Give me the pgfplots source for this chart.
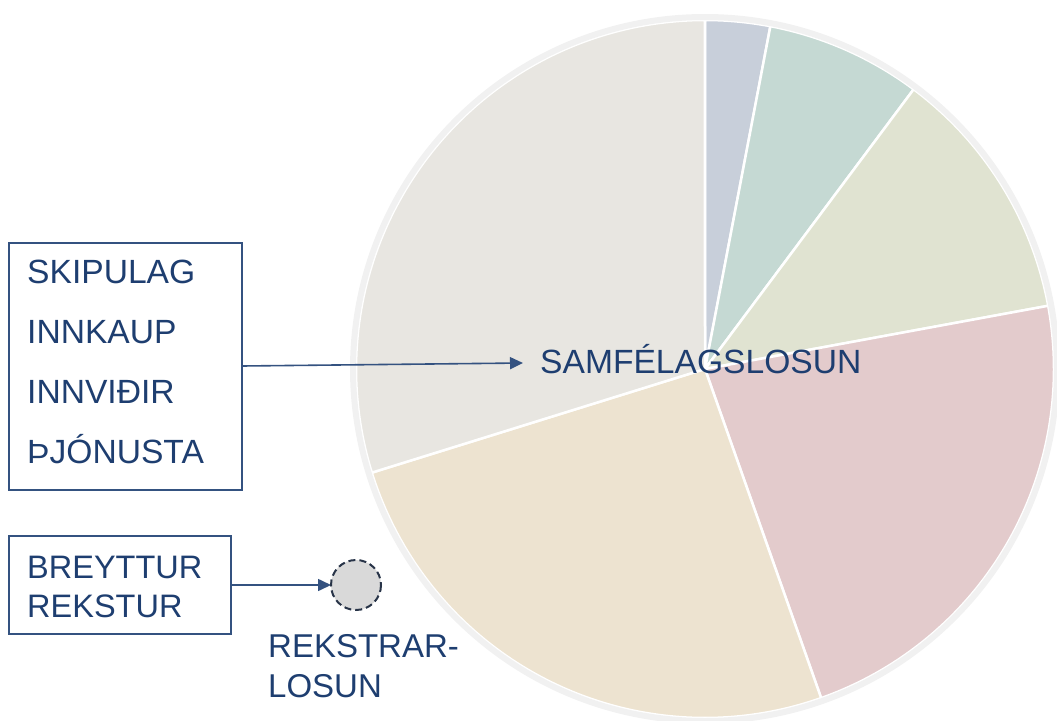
\documentclass[border=0pt]{standalone}
\usepackage{pgfplots}
\pgfplotsset{compat=1.18}
\usepackage{fontspec}
\setmainfont{Liberation Sans}
\usetikzlibrary{arrows.meta}
\definecolor{navy}{RGB}{30,62,112}
\definecolor{boxc}{RGB}{52,82,128}
\definecolor{sA}{RGB}{200,207,218}
\definecolor{sB}{RGB}{197,217,211}
\definecolor{sC}{RGB}{224,227,209}
\definecolor{sD}{RGB}{227,203,204}
\definecolor{sE}{RGB}{237,227,208}
\definecolor{sF}{RGB}{232,230,225}
\definecolor{ring}{RGB}{241,241,241}
\begin{document}
\begin{tikzpicture}
\begin{axis}[
  scale only axis, width=1057pt, height=720pt,
  xmin=0, xmax=1057, ymin=0, ymax=720, y dir=reverse,
  hide axis, clip=true,
]
\path (axis cs:0,0) rectangle (axis cs:1057,720);
% slice shares (percent): 3.0, 7.2, 11.9, 22.5, 25.6, 29.8 ; angles = cumulative * 3.6 deg, clockwise from top
\addplot[fill=sA, draw=white, line width=2.5pt, domain={0*3.6}:{3.0*3.6}, samples=40, smooth]
  ({705+349*sin(x)},{369-349*cos(x)}) -- (axis cs:705,369) -- cycle;
\addplot[fill=sB, draw=white, line width=2.5pt, domain={3.0*3.6}:{10.2*3.6}, samples=60, smooth]
  ({705+349*sin(x)},{369-349*cos(x)}) -- (axis cs:705,369) -- cycle;
\addplot[fill=sC, draw=white, line width=2.5pt, domain={10.2*3.6}:{22.1*3.6}, samples=80, smooth]
  ({705+349*sin(x)},{369-349*cos(x)}) -- (axis cs:705,369) -- cycle;
\addplot[fill=sD, draw=white, line width=2.5pt, domain={22.1*3.6}:{44.6*3.6}, samples=100, smooth]
  ({705+349*sin(x)},{369-349*cos(x)}) -- (axis cs:705,369) -- cycle;
\addplot[fill=sE, draw=white, line width=2.5pt, domain={44.6*3.6}:{70.2*3.6}, samples=100, smooth]
  ({705+349*sin(x)},{369-349*cos(x)}) -- (axis cs:705,369) -- cycle;
\addplot[fill=sF, draw=white, line width=2.5pt, domain={70.2*3.6}:{100*3.6}, samples=100, smooth]
  ({705+349*sin(x)},{369-349*cos(x)}) -- (axis cs:705,369) -- cycle;
% outer ring
\draw[ring, line width=6pt] (axis cs:705,369) circle [radius=352];

% labels
\node[anchor=base west, text=navy, font=\fontsize{33.6}{40}\selectfont, inner sep=0pt] at (axis cs:540,373) {SAMFÉLAGSLOSUN};
\draw[boxc, line width=1.3pt] (axis cs:9,243) rectangle (axis cs:242,490);
\node[anchor=base west, text=navy, font=\fontsize{33.6}{40}\selectfont, inner sep=0pt] at (axis cs:27,283) {SKIPULAG};
\node[anchor=base west, text=navy, font=\fontsize{33.6}{40}\selectfont, inner sep=0pt] at (axis cs:27,343) {INNKAUP};
\node[anchor=base west, text=navy, font=\fontsize{33.6}{40}\selectfont, inner sep=0pt] at (axis cs:27,403) {INNVIÐIR};
\node[anchor=base west, text=navy, font=\fontsize{33.6}{40}\selectfont, inner sep=0pt] at (axis cs:27,463) {ÞJÓNUSTA};
\draw[boxc, line width=1.6pt, -{Triangle[length=13pt,width=12pt]}] (axis cs:242,366) -- (axis cs:523,363);

\draw[boxc, line width=1.3pt] (axis cs:9,536) rectangle (axis cs:231,634);
\node[anchor=base west, text=navy, font=\fontsize{32.5}{38}\selectfont, inner sep=0pt] at (axis cs:27,578) {BREYTTUR};
\node[anchor=base west, text=navy, font=\fontsize{32.5}{38}\selectfont, inner sep=0pt] at (axis cs:27,617) {REKSTUR};
\draw[boxc, line width=1.6pt, -{Triangle[length=13pt,width=12pt]}] (axis cs:231,585) -- (axis cs:331,585);
\draw[fill={rgb,255:red,217;green,217;blue,217}, draw={rgb,255:red,40;green,52;blue,72}, line width=2pt, dash pattern=on 7pt off 4pt] (axis cs:356,585) circle [radius=25];
\node[anchor=base west, text=navy, font=\fontsize{33}{38}\selectfont, inner sep=0pt] at (axis cs:268,657) {REKSTRAR-};
\node[anchor=base west, text=navy, font=\fontsize{33}{38}\selectfont, inner sep=0pt] at (axis cs:268,697) {LOSUN};
\end{axis}
\end{tikzpicture}
\end{document}
